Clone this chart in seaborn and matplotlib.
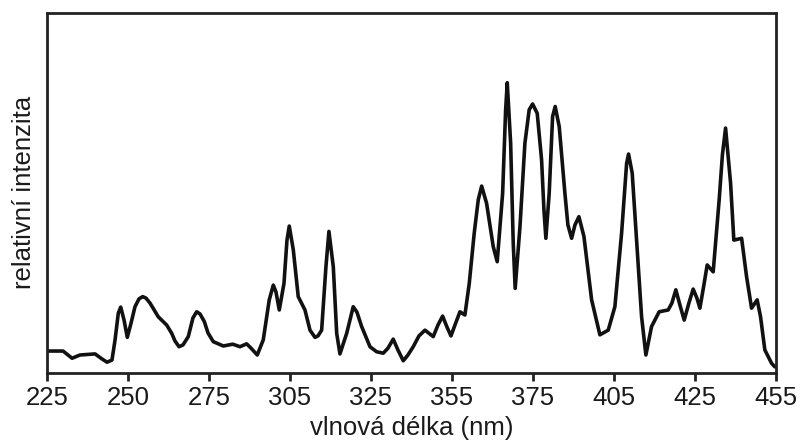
import numpy as np
import pandas as pd
import matplotlib
matplotlib.use("Agg")
import matplotlib.pyplot as plt
import seaborn as sns

# tick labels on the wavelength axis (evenly spaced positions, uneven labels)
tick_labels = ["225", "250", "275", "305", "325", "355", "375", "405", "425", "455"]

# position along the axis, in tick steps (0 = 225, 9 = 455)
pos = [0.012, 0.198, 0.309, 0.407, 0.593, 0.679, 0.741, 0.802, 0.840, 0.880,
       0.910, 0.951, 0.991, 1.037, 1.086, 1.136, 1.181, 1.222, 1.272, 1.374,
       1.478, 1.540, 1.580, 1.630, 1.679, 1.744, 1.802, 1.848, 1.889, 1.942,
       1.988, 2.053, 2.177, 2.293, 2.383, 2.465, 2.519, 2.596, 2.670, 2.744,
       2.794, 2.827, 2.868, 2.926, 2.963, 2.991, 3.041, 3.102, 3.185, 3.247,
       3.309, 3.346, 3.391, 3.444, 3.481, 3.535, 3.577, 3.617, 3.700, 3.781,
       3.827, 3.885, 3.988, 4.070, 4.152, 4.210, 4.275, 4.333, 4.399, 4.457,
       4.522, 4.593, 4.667, 4.769, 4.827, 4.885, 4.938, 4.988, 5.037, 5.099,
       5.160, 5.214, 5.275, 5.325, 5.367, 5.428, 5.510, 5.559, 5.626, 5.663,
       5.683, 5.725, 5.757, 5.781, 5.840, 5.901, 5.954, 5.996, 6.053, 6.107,
       6.136, 6.160, 6.201, 6.243, 6.275, 6.325, 6.395, 6.432, 6.478, 6.519,
       6.568, 6.630, 6.725, 6.827, 6.930, 7.012, 7.095, 7.157, 7.181, 7.226,
       7.288, 7.342, 7.395, 7.465, 7.559, 7.670, 7.716, 7.765, 7.815, 7.868,
       7.926, 7.979, 8.025, 8.062, 8.111, 8.152, 8.226, 8.300, 8.340, 8.379,
       8.441, 8.481, 8.577, 8.638, 8.700, 8.769, 8.811, 8.864, 8.947, 8.988]

# relative intensity (0 = bottom of frame, 100 = top)
intensity = [6.1, 6.1, 4.1, 5.0, 5.3, 3.9, 3.0, 3.6, 9.2, 16.6,
             18.3, 14.7, 9.9, 13.8, 18.4, 20.6, 21.2, 20.8, 19.4, 15.6,
             13.3, 11.0, 8.9, 7.3, 7.8, 10.1, 15.3, 17.0, 16.4, 14.3,
             11.1, 8.7, 7.5, 8.0, 7.3, 8.1, 6.9, 5.0, 9.2, 20.3,
             24.4, 22.5, 17.5, 24.9, 36.9, 40.8, 34.2, 21.2, 17.5, 11.9,
             9.9, 10.3, 11.9, 29.5, 39.3, 29.5, 11.0, 5.3, 11.0, 18.4,
             16.9, 12.9, 7.3, 5.9, 5.5, 6.9, 9.4, 6.4, 3.4, 5.0,
             7.3, 10.3, 11.9, 10.1, 13.3, 15.8, 12.8, 10.3, 13.3, 17.0,
             16.1, 24.9, 38.8, 48.1, 51.9, 47.1, 35.1, 30.9, 49.9, 73.1,
             80.6, 63.8, 36.0, 23.5, 40.6, 63.8, 73.1, 74.7, 72.1, 59.2,
             45.3, 37.4, 49.9, 71.2, 74.0, 68.4, 49.9, 41.1, 37.4, 41.1,
             43.4, 37.9, 20.3, 10.6, 11.9, 18.4, 38.8, 58.2, 60.8, 55.5,
             34.2, 15.6, 5.0, 12.9, 17.0, 17.5, 19.4, 23.1, 18.9, 14.7,
             19.4, 23.3, 20.8, 18.0, 24.4, 30.0, 28.1, 48.1, 60.6, 68.0,
             52.7, 36.9, 37.4, 26.8, 18.0, 20.3, 15.6, 6.4, 2.7, 1.7]

df = pd.DataFrame({"pos": pos, "intensity": intensity})

sns.set_style("white")
plt.rcParams["font.family"] = ["Liberation Sans", "DejaVu Sans"]
plt.rcParams["text.color"] = "#1a1a1a"
plt.rcParams["xtick.color"] = "#1a1a1a"
plt.rcParams["axes.labelcolor"] = "#1a1a1a"

fig = plt.figure(figsize=(8.04, 4.43), dpi=100)
ax = fig.add_axes([0.0585, 0.158, 0.9065, 0.813])

sns.lineplot(data=df, x="pos", y="intensity", ax=ax, color="#111111",
             linewidth=2.6, estimator=None, sort=False)
ax.lines[0].set_solid_joinstyle("round")

ax.set_xlim(0, 9)
ax.set_ylim(0, 100)
ax.set_xticks(range(len(tick_labels)))
ax.set_xticklabels(tick_labels)
ax.set_yticks([])
ax.tick_params(axis="x", direction="out", length=6, width=2, color="#222222",
               labelsize=18.5, pad=3, bottom=True)
for s in ax.spines.values():
    s.set_linewidth(2)
    s.set_color("#222222")

ax.set_xlabel("vlnová délka (nm)", fontsize=18.5, labelpad=5)
ax.set_ylabel("relativní intenzita", fontsize=18.5, labelpad=8)

fig.savefig("out.png", dpi=100)
